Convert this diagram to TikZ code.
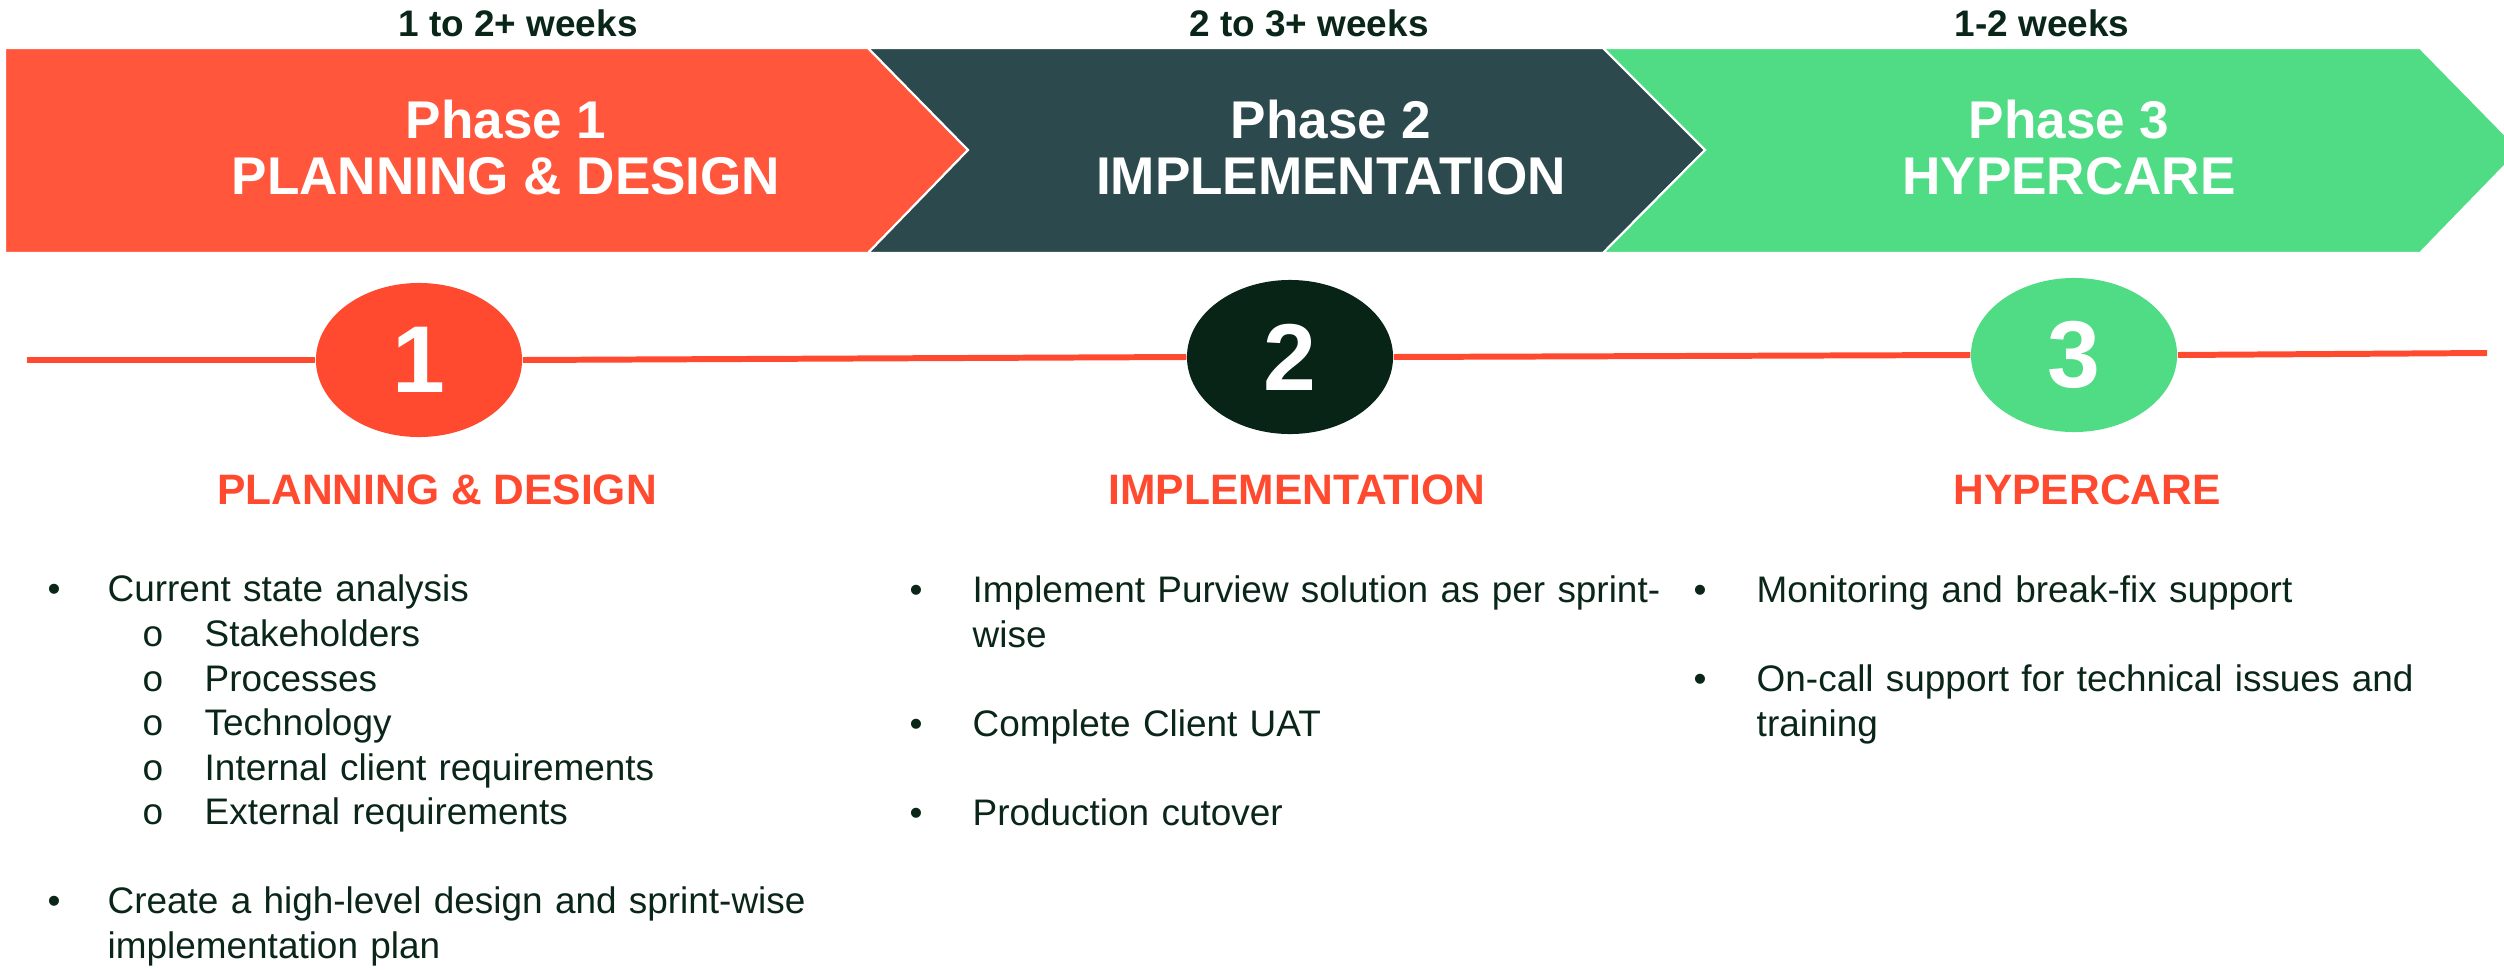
\documentclass[tikz,border=0pt]{standalone}
\usepackage{fontspec}
\setmainfont{Liberation Sans}
\setmonofont{Liberation Mono}
\usepackage{xcolor}
\usetikzlibrary{shapes.geometric}
\definecolor{coral}{HTML}{FF563C}
\definecolor{tomato}{HTML}{FF4A2F}
\definecolor{slate}{HTML}{2C4A4E}
\definecolor{mint}{HTML}{4FDC85}
\definecolor{pine}{HTML}{072417}
\definecolor{ink}{HTML}{0A2619}
\tikzset{
    chevron/.style = {draw=white, line width=0.6pt},
    weeks-label/.style = {text=ink, font=\fontsize{10.5}{12}\selectfont\bfseries, inner sep=0pt, anchor=base},
    phase-title/.style = {text=white, font=\fontsize{15.1}{16}\selectfont\bfseries, inner sep=0pt, anchor=base},
    step-disc/.style = {ellipse, minimum width=2.06cm, minimum height=1.54cm, inner sep=0pt, text=white, font=\fontsize{27}{30}\selectfont\bfseries},
    step-head/.style = {text=tomato, font=\fontsize{12.1}{14}\selectfont\bfseries, inner sep=0pt, anchor=base},
    dot/.style = {text=ink, font=\fontsize{10.5}{12.8}\selectfont, inner sep=0pt, anchor=base},
    subdot/.style = {text=ink, font=\fontsize{10.5}{12.8}\selectfont\ttfamily, inner sep=0pt, anchor=base},
    item-text/.style = {text=ink, font=\fontsize{10.5}{12.8}\selectfont, inner sep=0pt, anchor=base west, text width=9cm, align=left},
}

\begin{document}
\begin{tikzpicture}[x=0.01cm, y=-0.01cm]
\useasboundingbox (0,0) rectangle (2504,970);

% chevrons
\fill[coral, chevron] (5,48) -- (868,48) -- (968,150) -- (868,253) -- (5,253) -- cycle;
\fill[slate, chevron] (868,48) -- (1603,48) -- (1705,150) -- (1603,253) -- (868,253) -- (968,150) -- cycle;
\fill[mint, chevron] (1603,48) -- (2420,48) -- (2520,150) -- (2420,253) -- (1603,253) -- (1705,150) -- cycle;

\node[weeks-label] (weeks1) at (518,37) {1 to 2+ weeks};
\node[weeks-label] (weeks2) at (1309,37) {2 to 3+ weeks};
\node[weeks-label] (weeks3) at (2042,37) {1-2 weeks};

\node[phase-title] (phase1) at (506,139) {Phase 1};
\node[phase-title] (phase1-name) at (506,195) {PLANNING \& DESIGN};
\node[phase-title] (phase2) at (1331,139) {Phase 2};
\node[phase-title] (phase2-name) at (1331,195) {IMPLEMENTATION};
\node[phase-title] (phase3) at (2069,139) {Phase 3};
\node[phase-title] (phase3-name) at (2069,195) {HYPERCARE};

% timeline
\coordinate (line-start) at (27,360);
\coordinate (line-end) at (2487,353);
\node[step-disc, fill=tomato] (disc1) at (419,360) {1};
\node[step-disc, fill=pine] (disc2) at (1290,357) {2};
\node[step-disc, fill=mint] (disc3) at (2074,355) {3};
\draw[tomato, line width=1.7pt] (line-start) -- (disc1.west);
\draw[tomato, line width=1.7pt] (disc1.east) -- (disc2.west);
\draw[tomato, line width=1.7pt] (disc2.east) -- (disc3.west);
\draw[tomato, line width=1.7pt] (disc3.east) -- (line-end);

\node[step-head] (head1) at (437,504) {PLANNING \& DESIGN};
\node[step-head] (head2) at (1297,504) {IMPLEMENTATION};
\node[step-head] (head3) at (2087,504) {HYPERCARE};

% phase 1 items
\node[dot] (dot1a) at (54,601) {\textbullet};
\node[item-text] (item1a) at (107,601) {Current state analysis};
\node[subdot] (sub1) at (153,646) {o};
\node[item-text] (subitem1) at (204,646) {Stakeholders};
\node[subdot] (sub2) at (153,691) {o};
\node[item-text] (subitem2) at (204,691) {Processes};
\node[subdot] (sub3) at (153,735) {o};
\node[item-text] (subitem3) at (204,735) {Technology};
\node[subdot] (sub4) at (153,780) {o};
\node[item-text] (subitem4) at (204,780) {Internal client requirements};
\node[subdot] (sub5) at (153,824) {o};
\node[item-text] (subitem5) at (204,824) {External requirements};
\node[dot] (dot1b) at (54,913) {\textbullet};
\node[item-text] (item1b) at (107,913) {Create a high-level design and sprint-wise\\implementation plan};

% phase 2 items
\node[dot] (dot2a) at (916,602) {\textbullet};
\node[item-text] (item2a) at (972,602) {Implement Purview solution as per sprint-\\wise};
\node[dot] (dot2b) at (916,736) {\textbullet};
\node[item-text] (item2b) at (972,736) {Complete Client UAT};
\node[dot] (dot2c) at (916,825) {\textbullet};
\node[item-text] (item2c) at (972,825) {Production cutover};

% phase 3 items
\node[dot] (dot3a) at (1700,602) {\textbullet};
\node[item-text] (item3a) at (1756,602) {Monitoring and break-fix support};
\node[dot] (dot3b) at (1700,691) {\textbullet};
\node[item-text] (item3b) at (1756,691) {On-call support for technical issues and\\training};
\end{tikzpicture}
\end{document}
